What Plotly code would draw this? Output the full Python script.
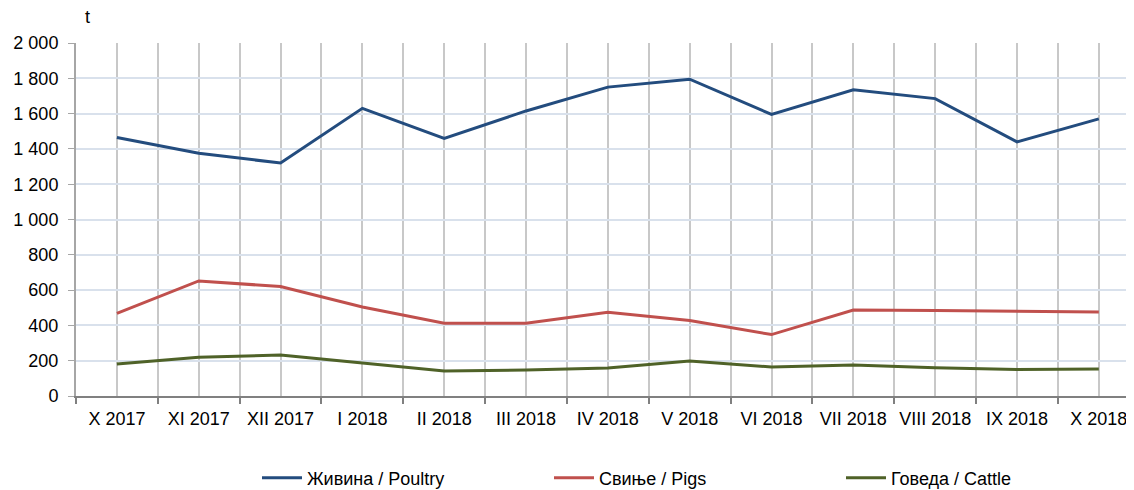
import plotly.graph_objects as go

months = ["X 2017", "XI 2017", "XII 2017", "I 2018", "II 2018", "III 2018", "IV 2018",
          "V 2018", "VI 2018", "VII 2018", "VIII 2018", "IX 2018", "X 2018"]
poultry = [1465, 1375, 1320, 1630, 1460, 1615, 1750, 1795, 1595, 1735, 1685, 1440, 1570]
pigs = [468, 652, 620, 504, 412, 412, 474, 428, 348, 487, 485, 481, 476]
cattle = [182, 220, 232, 186, 142, 147, 158, 198, 164, 175, 160, 150, 153]

names = ["Живина / Poultry", "Свиње / Pigs", "Говеда / Cattle"]
colors = ["#234C7E", "#C0504D", "#4F6228"]
y_ticks = list(range(0, 2001, 200))

FONT = "Liberation Sans, Arial, sans-serif"
FS = 18

# page body has an 8px margin, so the figure is offset by 8px
W, H = 1126, 482
L, T, B = 68, 35, 94
PW, PH = W - L, H - T - B  # 1058 x 353

x = list(range(len(months)))
fig = go.Figure()
for name, vals, col in zip(names, [poultry, pigs, cattle], colors):
    fig.add_trace(go.Scatter(x=x, y=vals, mode="lines", name=name,
                             line=dict(color=col, width=3)))

fig.update_layout(
    width=W, height=H,
    margin=dict(l=L, r=0, t=T, b=B, autoexpand=False),
    paper_bgcolor="white", plot_bgcolor="white",
    separators=", ",
    font=dict(family=FONT, size=FS, color="#000000"),
    showlegend=True,
    legend=dict(orientation="h", x=(257 - 8 - L) / PW, y=(388 - 470) / PH,
                xanchor="left", yanchor="middle",
                font=dict(family=FONT, size=FS), entrywidth=237, entrywidthmode="pixels",
                itemwidth=40),
)
fig.update_xaxes(
    range=[-0.5, 12.43], tickmode="array", tickvals=x, ticktext=months,
    showgrid=True, gridcolor="#C8C8C8", gridwidth=1.5,
    ticks="", showline=True, linecolor="#808080", linewidth=2,
    minor=dict(tickmode="linear", tick0=-0.5, dtick=1, ticks="outside", ticklen=6,
               tickcolor="#808080", tickwidth=2, showgrid=True, gridcolor="#C8C8C8", gridwidth=1.5),
    tickfont=dict(family=FONT, size=FS), zeroline=False, ticklabelstandoff=5,
)
fig.update_yaxes(
    range=[0, 2000], tickmode="array", tickvals=y_ticks, tickformat=",d",
    showgrid=True, gridcolor="#D9E1EC", gridwidth=1.5,
    ticks="outside", ticklen=6, tickcolor="#A6A6A6",
    showline=True, linecolor="#A6A6A6", linewidth=2, zeroline=False,
    tickfont=dict(family=FONT, size=FS), ticklabelstandoff=6,
)
fig.add_annotation(text="t", xref="paper", yref="paper", x=(87 - 8 - L) / PW, y=(388 - 9) / PH,
                   showarrow=False, font=dict(family=FONT, size=FS), xanchor="center", yanchor="middle")

fig.write_html("out.html")
